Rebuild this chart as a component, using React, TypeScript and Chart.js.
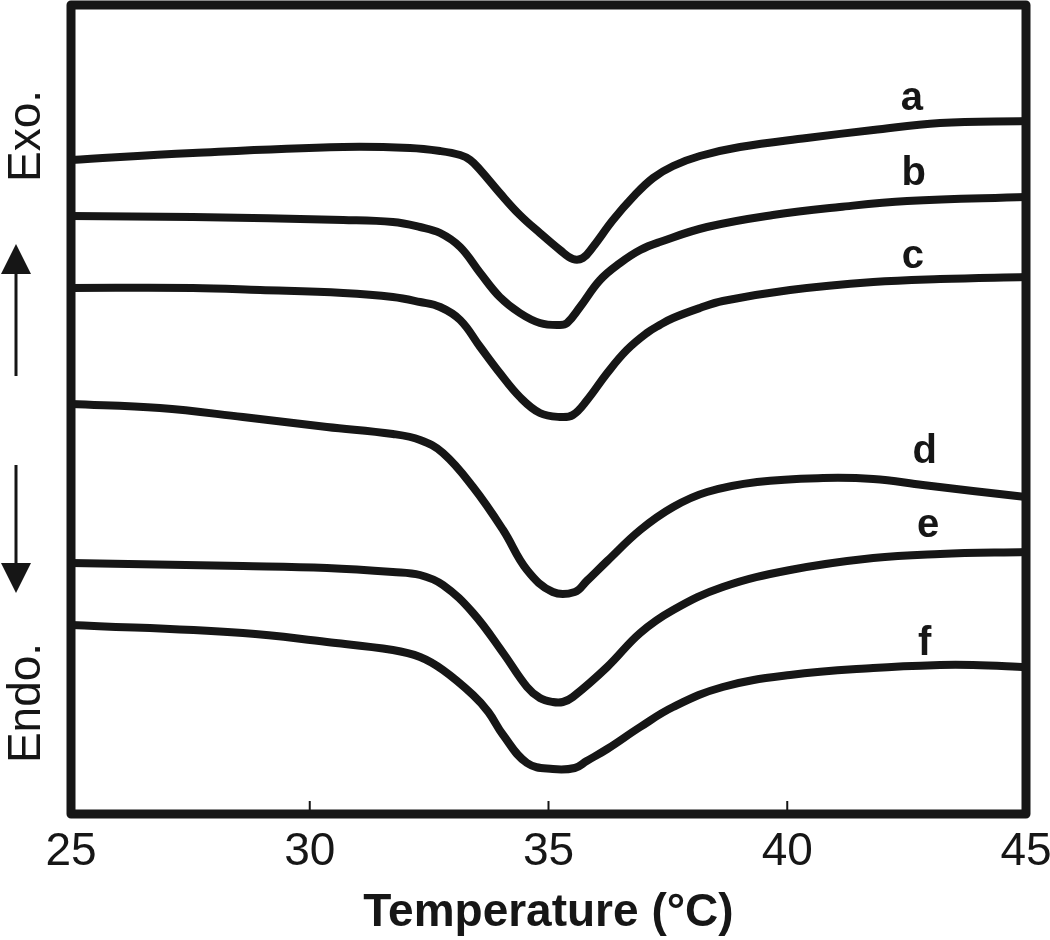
import React, { useEffect, useRef } from 'react';
import { Chart, registerables } from 'chart.js';

Chart.register(...registerables);

const INK = '#161616';
const FONT = '"Liberation Sans", Arial, Helvetica, sans-serif';

// x axis (temperature, °C)
const tempTicks = [25, 30, 35, 40, 45];
const xTitle = 'Temperature (\u00B0C)';

// Heat-flow curves (arbitrary units, offset for clarity)
const aT = [25.0, 27.55, 30.7, 32.1, 32.73, 33.15, 33.36, 33.57, 33.98, 34.4, 34.82, 35.24, 35.51, 35.72, 35.93, 36.35, 36.77, 37.19, 37.61, 38.17, 39.01, 40.41, 41.8, 43.2, 45.0];
const aV = [65.4, 66.1, 66.7, 66.6, 66.3, 65.9, 65.4, 64.4, 62.1, 59.9, 58.1, 56.4, 55.5, 55.6, 56.7, 59.4, 61.7, 63.6, 64.8, 65.8, 66.7, 67.6, 68.4, 69.1, 69.3];

const bT = [25.0, 27.55, 30.7, 31.74, 32.31, 32.73, 33.15, 33.57, 33.98, 34.4, 34.82, 35.24, 35.39, 35.66, 36.08, 36.5, 36.92, 37.33, 38.32, 39.7, 41.1, 42.51, 45.0];
const bV = [59.8, 59.7, 59.4, 59.2, 58.7, 58.1, 56.7, 54.1, 51.7, 50.1, 49.1, 48.9, 49.1, 50.7, 53.4, 55.1, 56.4, 57.2, 58.7, 59.9, 60.7, 61.3, 61.7];

const cT = [25.0, 27.55, 28.96, 30.7, 31.74, 32.31, 32.73, 33.15, 33.57, 33.98, 34.4, 34.82, 35.24, 35.51, 35.81, 36.23, 36.64, 37.06, 37.33, 37.61, 38.17, 38.65, 40.06, 41.8, 43.2, 45.0];
const cV = [52.6, 52.6, 52.4, 52.1, 51.7, 51.2, 50.7, 49.4, 46.7, 44.1, 41.7, 40.1, 39.7, 39.9, 41.4, 44.1, 46.4, 48.1, 48.9, 49.6, 50.6, 51.3, 52.4, 53.2, 53.5, 53.7];

const dT = [25.0, 26.86, 28.6, 30.36, 31.74, 32.31, 32.79, 33.42, 34.05, 34.55, 35.09, 35.55, 35.8, 36.23, 36.92, 37.61, 38.32, 39.37, 40.75, 41.8, 42.84, 43.89, 45.0];
const dV = [41.0, 40.6, 39.7, 38.7, 38.0, 37.4, 36.1, 32.7, 28.4, 24.4, 22.2, 22.2, 23.3, 25.3, 28.4, 30.7, 32.2, 33.2, 33.6, 33.5, 32.9, 32.3, 31.7];

const eT = [25.0, 28.6, 30.36, 31.74, 32.31, 32.79, 33.42, 34.05, 34.55, 34.82, 35.09, 35.3, 35.51, 36.23, 36.92, 37.61, 38.65, 40.06, 41.8, 43.2, 45.0];
const eV = [25.1, 24.8, 24.6, 24.2, 23.9, 22.9, 20.1, 16.1, 12.7, 11.6, 11.2, 11.2, 11.7, 14.7, 18.1, 20.4, 22.7, 24.4, 25.6, 26.0, 26.2];

const fT = [25.0, 28.6, 30.36, 31.74, 32.31, 32.79, 33.42, 33.74, 34.05, 34.55, 35.09, 35.55, 35.8, 36.23, 36.92, 37.61, 38.65, 40.06, 41.8, 43.2, 43.89, 45.0];
const fV = [18.9, 18.1, 17.2, 16.4, 15.7, 14.4, 11.9, 10.2, 7.9, 5.1, 4.5, 4.6, 5.3, 6.5, 8.7, 10.7, 12.7, 13.9, 14.6, 14.9, 14.9, 14.7];

const seriesNames = ['a', 'b', 'c', 'd', 'e', 'f'];
const seriesT = [aT, bT, cT, dT, eT, fT];
const seriesV = [aV, bV, cV, dV, eV, fV];
// curve label anchors (data units)
const labelT = [42.61, 42.65, 42.63, 42.88, 42.95, 42.88];
const labelV = [70.4, 62.9, 54.6, 35.1, 27.7, 15.9];

const decorPlugin = {
  id: 'decor',
  afterDatasetsDraw(chart: any) {
    const { ctx, chartArea: ca, scales } = chart;
    const x = scales.x;
    const y = scales.y;
    ctx.save();
    // frame
    ctx.strokeStyle = INK;
    ctx.lineWidth = 9;
    ctx.lineJoin = 'round';
    ctx.strokeRect(ca.left, ca.top, ca.right - ca.left, ca.bottom - ca.top);
    // inward tick marks
    ctx.lineWidth = 2;
    tempTicks.forEach((t) => {
      const px = x.getPixelForValue(t);
      ctx.beginPath();
      ctx.moveTo(px, ca.bottom - 4);
      ctx.lineTo(px, ca.bottom - 13);
      ctx.stroke();
    });
    // curve labels
    ctx.fillStyle = INK;
    ctx.font = `bold 40px ${FONT}`;
    ctx.textAlign = 'center';
    ctx.textBaseline = 'alphabetic';
    seriesNames.forEach((n, i) => {
      ctx.fillText(n, x.getPixelForValue(labelT[i]), y.getPixelForValue(labelV[i]));
    });
    // Exo. / Endo.
    ctx.font = `46px ${FONT}`;
    ctx.textBaseline = 'middle';
    const side = (txt: string, cx: number, cy: number) => {
      ctx.save();
      ctx.translate(cx, cy);
      ctx.rotate(-Math.PI / 2);
      ctx.fillText(txt, 0, 0);
      ctx.restore();
    };
    side('Exo.', 27, 136);
    side('Endo.', 27, 703);
    // arrows
    const ax = 16;
    ctx.lineWidth = 3;
    ctx.beginPath();
    ctx.moveTo(ax, 272);
    ctx.lineTo(ax, 376);
    ctx.moveTo(ax, 465);
    ctx.lineTo(ax, 565);
    ctx.stroke();
    ctx.beginPath();
    ctx.moveTo(ax, 244);
    ctx.lineTo(ax - 15, 274);
    ctx.lineTo(ax + 15, 274);
    ctx.closePath();
    ctx.fill();
    ctx.beginPath();
    ctx.moveTo(ax, 593);
    ctx.lineTo(ax - 15, 563);
    ctx.lineTo(ax + 15, 563);
    ctx.closePath();
    ctx.fill();
    ctx.restore();
  },
};

export default function App() {
  const ref = useRef<HTMLCanvasElement | null>(null);
  useEffect(() => {
    if (!ref.current) return;
    const datasets = seriesNames.map((n, i) => ({
      label: n,
      data: seriesT[i].map((t, j) => ({ x: t, y: seriesV[i][j] })),
      borderColor: INK,
      borderWidth: 8,
      pointRadius: 0,
      fill: false,
      tension: 0.4,
      borderCapStyle: 'round' as const,
      borderJoinStyle: 'round' as const,
    }));
    const chart = new Chart(ref.current, {
      type: 'line',
      data: { datasets },
      options: {
        animation: false,
        responsive: false,
        layout: { padding: { left: 71, right: 24, top: 5, bottom: 0 } },
        plugins: { legend: { display: false }, tooltip: { enabled: false } },
        scales: {
          x: {
            type: 'linear',
            min: 25,
            max: 45,
            grid: { display: false },
            border: { display: false },
            ticks: {
              stepSize: 5,
              autoSkip: false,
              maxRotation: 0,
              padding: 3,
              color: INK,
              font: { family: FONT, size: 46 },
            },
            title: {
              display: true,
              text: xTitle,
              color: INK,
              padding: { top: 0, bottom: 1 },
              font: { family: FONT, size: 46, weight: 'bold', lineHeight: 1.1 },
            },
            afterFit: (s: any) => {
              s.height = 126;
              s.paddingLeft = 0;
              s.paddingRight = 0;
            },
          },
          y: {
            type: 'linear',
            display: false,
            min: 0,
            max: 80.9,
          },
        },
      },
      plugins: [decorPlugin],
    });
    return () => chart.destroy();
  }, []);
  return (
    <div style={{ position: 'absolute', left: 0, top: 0, width: 1050, height: 940, background: '#fff' }}>
      <canvas ref={ref} width={1050} height={940} style={{ display: 'block' }} />
    </div>
  );
}
